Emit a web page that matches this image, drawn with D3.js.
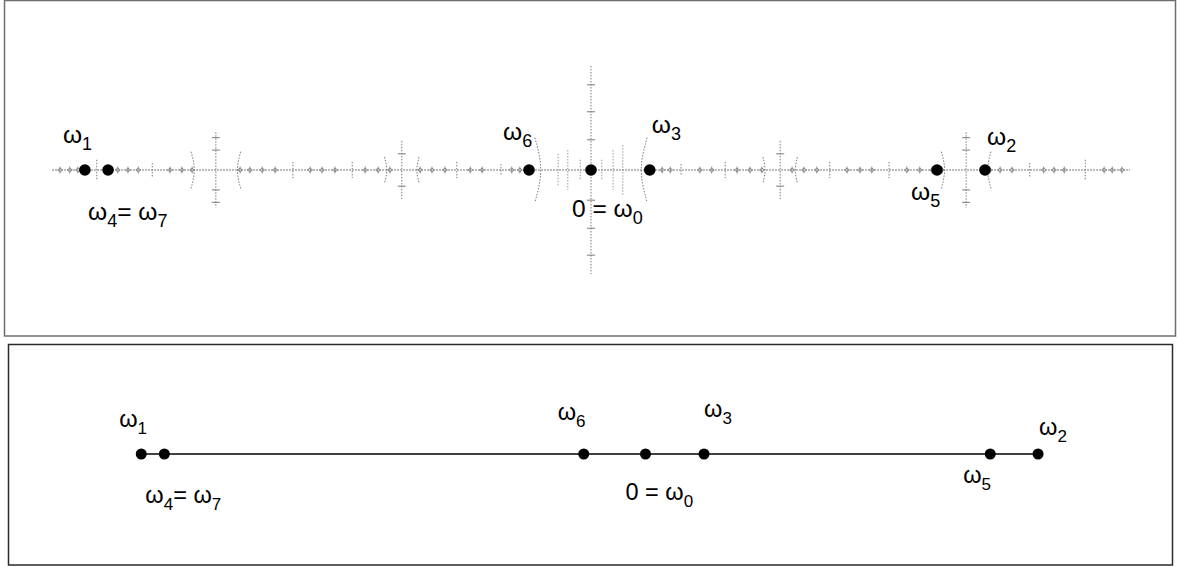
<!DOCTYPE html>
<html>
<head>
<meta charset="utf-8">
<script src="https://cdn.jsdelivr.net/npm/d3@7"></script>
<style>
  body { margin: 0; background: #fff; }
  text { font-family: "Liberation Sans", Arial, sans-serif; fill: #000; }
</style>
</head>
<body>
<div id="canvas"></div>
<script>
// points on the real axis (same values in both panels)
const pointNames = ["ω1", "ω4", "ω6", "ω0", "ω3", "ω5", "ω2"];
const pointValues = [-0.939, -0.896, -0.115, 0, 0.109, 0.642, 0.731];

// labels: [point index, segments of [text, subscript]]
const labelPoint = [0, 1, 2, 3, 4, 5, 6];
const labelParts = [
  [["ω", "1"]],
  [["ω", "4"], ["= ω", "7"]],
  [["ω", "6"]],
  [["0 = ω", "0"]],
  [["ω", "3"]],
  [["ω", "5"]],
  [["ω", "2"]]
];

// julia-like set in the top panel
const spikeX = [-0.917, -0.814, -0.696, -0.553, -0.443, -0.351, -0.249, -0.167,
  0, 0.167, 0.249, 0.351, 0.443, 0.553, 0.696, 0.814, 0.917];
const spikeHalf = [0.019, 0.013, 0.070, 0.015, 0.015, 0.054, 0.015, 0.011,
  0.193, 0.011, 0.015, 0.054, 0.015, 0.015, 0.070, 0.013, 0.019];

// small feathers near the centre
const innerX = [-0.061, -0.043, -0.020, 0.020, 0.041, 0.059];
const innerHalf = [0.030, 0.037, 0.019, 0.019, 0.037, 0.046];

// bent side branches: centre, offset from centre, half height, bend
const arcCentre = [0, 0, -0.696, -0.696, 0.696, 0.696, -0.351, -0.351, 0.351, 0.351];
const arcOffset = [-0.088, 0.088, -0.037, 0.037, -0.037, 0.037, -0.026, 0.026, -0.026, 0.026];
const arcHalf = [0.060, 0.060, 0.034, 0.034, 0.034, 0.034, 0.024, 0.024, 0.024, 0.024];
const arcBend = [0.016, 0.016, 0.009, 0.009, 0.009, 0.009, 0.006, 0.006, 0.006, 0.006];

// crossbars on the tall spikes
const crossX = [0, 0, 0, 0, 0, 0, -0.696, -0.696, -0.696, -0.696, 0.696, 0.696, 0.696, 0.696,
  -0.351, -0.351, 0.351, 0.351];
const crossY = [0.056, -0.056, 0.108, -0.108, 0.158, -0.158, 0.037, -0.037, 0.060, -0.060,
  0.037, -0.037, 0.060, -0.060, 0.030, -0.030, 0.030, -0.030];

// tiny knots along the axis
const knotX = [-0.985, -0.967, -0.952, -0.878, -0.859, -0.840, -0.781, -0.759, -0.740,
  -0.651, -0.633, -0.610, -0.586, -0.521, -0.499, -0.475, -0.419, -0.395, -0.373,
  -0.317, -0.295, -0.271, -0.224, -0.202, -0.147, -0.132,
  0.132, 0.147, 0.202, 0.224, 0.271, 0.295, 0.317, 0.373, 0.395, 0.419,
  0.475, 0.499, 0.521, 0.586, 0.610, 0.633, 0.651, 0.740, 0.759, 0.781,
  0.840, 0.859, 0.878, 0.952, 0.967, 0.985];

const width = 1178, height = 567;
const svg = d3.select("#canvas").append("svg")
  .attr("width", width)
  .attr("height", height);

// frames
svg.append("rect")
  .attr("x", 4.5).attr("y", 0.5).attr("width", 1171).attr("height", 335.5)
  .attr("fill", "none").attr("stroke", "#6e6e6e").attr("stroke-width", 1.5);
svg.append("rect")
  .attr("x", 8.5).attr("y", 344.5).attr("width", 1164).attr("height", 220.5)
  .attr("fill", "none").attr("stroke", "#2a2a2a").attr("stroke-width", 1.5);

// ---------- top panel ----------
const axisY1 = 170;
const x1 = d3.scaleLinear().domain([-1, 1]).range([52, 1130]);
const y1 = d3.scaleLinear().domain([-1, 1]).range([axisY1 + 539, axisY1 - 539]);

const gTop = svg.append("g");
const grey = "#7a7a7a";

gTop.append("line")
  .attr("x1", x1(-1)).attr("x2", x1(1))
  .attr("y1", y1(0)).attr("y2", y1(0))
  .attr("stroke", grey).attr("stroke-width", 1)
  .attr("stroke-dasharray", "2,1");

gTop.selectAll(".spike").data(spikeX).enter().append("line")
  .attr("class", "spike")
  .attr("x1", d => x1(d)).attr("x2", d => x1(d))
  .attr("y1", (d, i) => y1(spikeHalf[i])).attr("y2", (d, i) => y1(-spikeHalf[i]))
  .attr("stroke", grey).attr("stroke-width", 1)
  .attr("stroke-dasharray", "1.5,1.5");

gTop.selectAll(".inner").data(innerX).enter().append("line")
  .attr("class", "inner")
  .attr("x1", d => x1(d)).attr("x2", d => x1(d))
  .attr("y1", (d, i) => y1(innerHalf[i])).attr("y2", (d, i) => y1(-innerHalf[i]))
  .attr("stroke", "#999").attr("stroke-width", 1)
  .attr("stroke-dasharray", "1.5,1.5");

const arcLine = d3.line().curve(d3.curveBasis);
gTop.selectAll(".arc").data(arcCentre).enter().append("path")
  .attr("class", "arc")
  .attr("d", (c, i) => {
    const s = Math.sign(arcOffset[i]);
    const xm = c + arcOffset[i], xe = xm + s * arcBend[i];
    return arcLine([
      [x1(xe), y1(arcHalf[i])],
      [x1(xm), y1(0)],
      [x1(xe), y1(-arcHalf[i])]
    ]);
  })
  .attr("fill", "none").attr("stroke", grey).attr("stroke-width", 1)
  .attr("stroke-dasharray", "1.5,1.5");

gTop.selectAll(".cross").data(crossX).enter().append("line")
  .attr("class", "cross")
  .attr("x1", d => x1(d) - 4).attr("x2", d => x1(d) + 4)
  .attr("y1", (d, i) => y1(crossY[i])).attr("y2", (d, i) => y1(crossY[i]))
  .attr("stroke", grey).attr("stroke-width", 1);

gTop.selectAll(".knot").data(knotX).enter().append("path")
  .attr("class", "knot")
  .attr("transform", d => `translate(${x1(d)},${y1(0)})`)
  .attr("d", "M-2.5,0L0,-2L2.5,0L0,2Z M0,-3.5V3.5")
  .attr("fill", "none").attr("stroke", grey).attr("stroke-width", 0.8);

gTop.selectAll(".dot").data(pointValues).enter().append("circle")
  .attr("class", "dot")
  .attr("cx", d => x1(d)).attr("cy", y1(0)).attr("r", 5.8)
  .attr("fill", "#000");

// label offsets from the point (layout)
const topLabelDx = [-22, -20, -26, -19, 2, -26, 2];
const topLabelDy = [-27, 50, -30, 47, -37, 30, -25];

function drawLabels(g, xs, yAxis, dxs, dys, size, subSize) {
  labelPoint.forEach((p, i) => {
    const t = g.append("text")
      .attr("x", xs(pointValues[p]) + dxs[i])
      .attr("y", yAxis + dys[i])
      .style("font-size", size + "px");
    labelParts[i].forEach((seg, k) => {
      t.append("tspan").attr("dy", k === 0 ? 0 : -7).text(seg[0]);
      t.append("tspan").attr("dy", 7).style("font-size", subSize + "px").text(seg[1]);
    });
  });
}
drawLabels(gTop, x1, axisY1, topLabelDx, topLabelDy, 24.5, 18);

// ---------- bottom panel ----------
const axisY2 = 454;
const x2 = d3.scaleLinear().domain([-1, 1]).range([108.5, 1182.5]);
const gBot = svg.append("g");

gBot.append("line")
  .attr("x1", x2(d3.min(pointValues))).attr("x2", x2(d3.max(pointValues)))
  .attr("y1", axisY2).attr("y2", axisY2)
  .attr("stroke", "#000").attr("stroke-width", 1.5);

gBot.selectAll(".dot").data(pointValues).enter().append("circle")
  .attr("class", "dot")
  .attr("cx", d => x2(d)).attr("cy", axisY2).attr("r", 5.5)
  .attr("fill", "#000");

const botLabelDx = [-22, -19, -26, -20, 0, -27, 1];
const botLabelDy = [-27, 49, -34, 46, -37, 29, -19];
drawLabels(gBot, x2, axisY2, botLabelDx, botLabelDy, 23.5, 17);
</script>
</body>
</html>
